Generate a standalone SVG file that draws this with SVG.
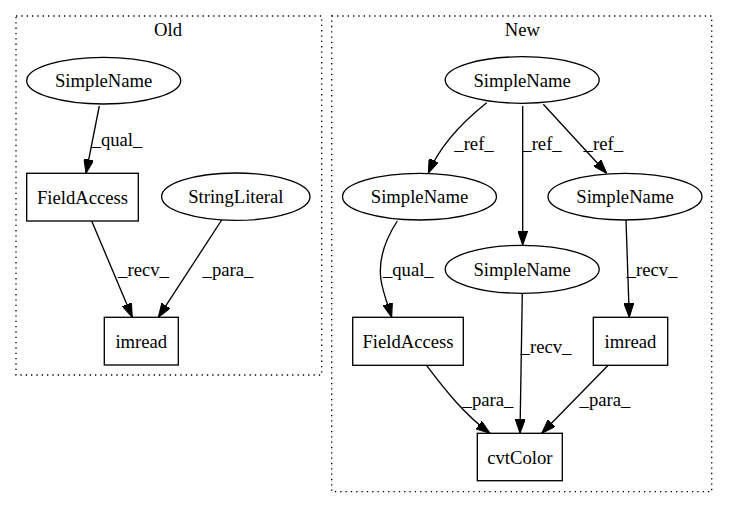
<svg xmlns="http://www.w3.org/2000/svg" width="729" height="508" viewBox="0 0 729 508">
<defs>
<style>
text{font-family:"Liberation Serif","Times New Roman",serif;font-size:18.67px;fill:#000;text-anchor:middle}
.node ellipse,.node rect{fill:none;stroke:#000;stroke-width:1.33}
.cluster{fill:none;stroke:#000;stroke-width:1.33;stroke-dasharray:1.33 4}
.edge{fill:none;stroke:#000;stroke-width:1.33;marker-end:url(#arr)}
</style>
<marker id="arr" markerUnits="userSpaceOnUse" markerWidth="14" markerHeight="10" viewBox="0 0 13.33 9.33" refX="13.33" refY="4.67" orient="auto">
<path d="M0,0 L13.33,4.67 L0,9.33 Z" fill="#000" stroke="#000" stroke-width="1"/>
</marker>
</defs>
<rect width="729" height="508" fill="#fff"/>
<g id="cluster_old">
<rect class="cluster" x="16" y="16" width="305.7" height="359"/>
<text x="168" y="36">Old</text>
</g>
<g id="cluster_new">
<rect class="cluster" x="331.7" y="16" width="380" height="475.7"/>
<text x="522.3" y="36">New</text>
</g>
<g id="edges">
<path class="edge" d="M99.3,106 L86,173.3"/>
<text x="117" y="146">_qual_</text>
<path class="edge" d="M91.7,221 L132.3,317.3"/>
<text x="143.5" y="276">_recv_</text>
<path class="edge" d="M221.7,220 L158.3,317.3"/>
<text x="228" y="276">_para_</text>
<path class="edge" d="M486.7,102.7 C465,120 440,145 428.3,173.3"/>
<text x="474" y="149.5">_ref_</text>
<path class="edge" d="M522.7,106 L522.7,245"/>
<text x="542" y="149.5">_ref_</text>
<path class="edge" d="M543.3,104.3 L606.7,173.3"/>
<text x="603.3" y="149.5">_ref_</text>
<path class="edge" d="M397.3,221 C385,240 378,260 381,280 C383,293 388,305 391.7,317.3"/>
<text x="408.3" y="276">_qual_</text>
<path class="edge" d="M626,220 L629.3,317.3"/>
<text x="652" y="276">_recv_</text>
<path class="edge" d="M522.3,293.3 L520,433.3"/>
<text x="546" y="353">_recv_</text>
<path class="edge" d="M426.7,365.7 C445,390 465,415 490,433.3"/>
<text x="488" y="406">_para_</text>
<path class="edge" d="M607.7,365.7 L541.7,433.3"/>
<text x="605" y="406">_para_</text>
</g>
<g id="old_simplename" class="node">
<ellipse cx="103.7" cy="80.7" rx="77" ry="23.3"/>
<text x="103.7" y="87">SimpleName</text>
</g>
<g id="old_fieldaccess" class="node">
<rect x="26.7" y="173.3" width="111.6" height="47.7"/>
<text x="82.5" y="203.5">FieldAccess</text>
</g>
<g id="old_stringliteral" class="node">
<ellipse cx="235.8" cy="196.7" rx="74.2" ry="23.7"/>
<text x="235.8" y="203">StringLiteral</text>
</g>
<g id="old_imread" class="node">
<rect x="104.3" y="317.3" width="74" height="47.7"/>
<text x="141.3" y="347.5">imread</text>
</g>
<g id="new_simplename_top" class="node">
<ellipse cx="522.2" cy="80" rx="77" ry="23.3"/>
<text x="522.2" y="86.5">SimpleName</text>
</g>
<g id="new_simplename_left" class="node">
<ellipse cx="419.5" cy="196.7" rx="77" ry="23.3"/>
<text x="419.5" y="203">SimpleName</text>
</g>
<g id="new_simplename_right" class="node">
<ellipse cx="625" cy="196.7" rx="77" ry="23.3"/>
<text x="625" y="203">SimpleName</text>
</g>
<g id="new_simplename_mid" class="node">
<ellipse cx="522.2" cy="269.3" rx="77" ry="24"/>
<text x="522.2" y="275.7">SimpleName</text>
</g>
<g id="new_fieldaccess" class="node">
<rect x="352.7" y="317.3" width="110.6" height="48"/>
<text x="408" y="347.8">FieldAccess</text>
</g>
<g id="new_imread" class="node">
<rect x="593.3" y="317.3" width="74.4" height="48"/>
<text x="630.5" y="347.8">imread</text>
</g>
<g id="new_cvtcolor" class="node">
<rect x="477.3" y="433.3" width="85" height="47.4"/>
<text x="519.8" y="463.5">cvtColor</text>
</g>
</svg>
